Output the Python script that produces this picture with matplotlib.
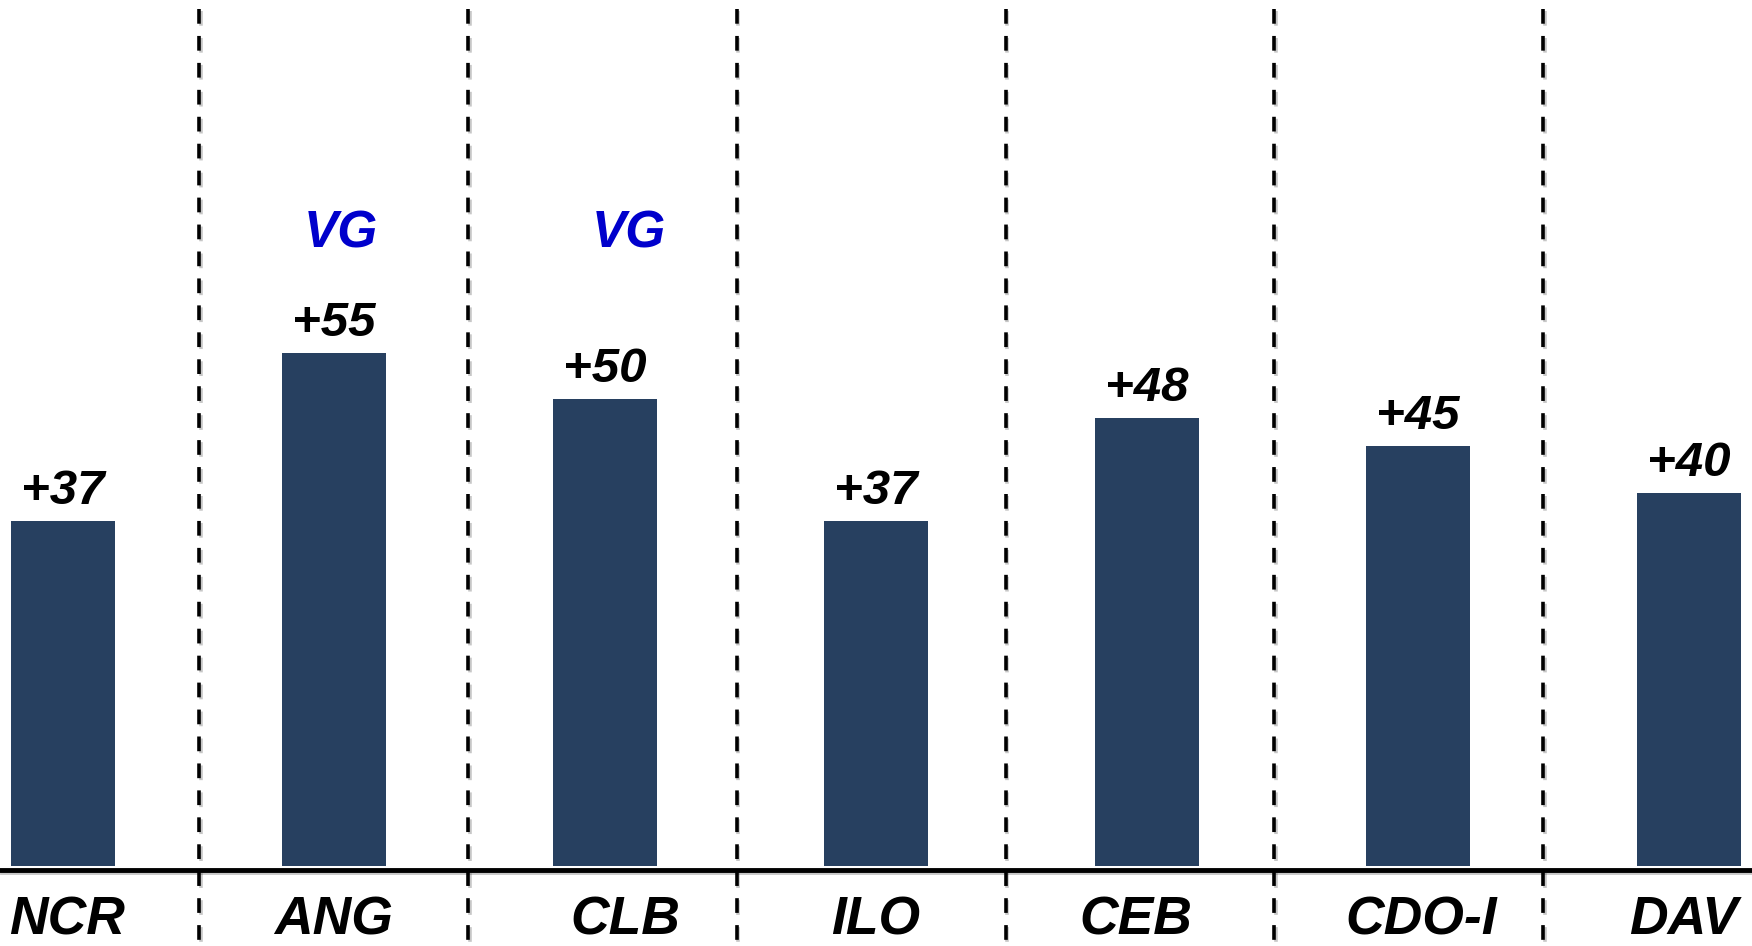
import matplotlib
matplotlib.use("Agg")
import matplotlib.pyplot as plt
import matplotlib.patheffects as pe

categories = ["NCR", "ANG", "CLB", "ILO", "CEB", "CDO-I", "DAV"]
values = [37, 55, 50, 37, 48, 45, 40]
value_labels = ["+37", "+55", "+50", "+37", "+48", "+45", "+40"]
vg_flags = [False, True, True, False, False, False, False]

plt.rcParams['font.family'] = ['Liberation Sans', 'DejaVu Sans']
plt.rcParams['lines.scale_dashes'] = False

BAR = '#274060'
BLUE = '#0000CC'

# small horizontal nudges of text (layout only, in data units)
cat_nudge = [0.015, 0.0, 0.074, 0.0, -0.04, 0.01, -0.022]
vg_nudge = [0.0, 0.027, 0.088, 0.0, 0.0, 0.0, 0.0]

fig = plt.figure(figsize=(17.52, 9.46), dpi=100)
ax = fig.add_axes([0, 0, 1, 1])
ax.set_xlim(-0.2325, 6.2325)
ax.set_ylim(-8.57, 92.8)
ax.axis('off')

x = list(range(len(categories)))
ax.bar(x, values, width=0.384, color=BAR, zorder=2)

shadow = [pe.SimpleLineShadow(offset=(1.2, -1.2), shadow_color='k', alpha=0.22), pe.Normal()]

# baseline
ax.axhline(-0.45, color='black', lw=3.5, zorder=3, path_effects=shadow)

# dashed dividers
for i in range(len(categories) - 1):
    xd = 0.502 + 0.992 * i
    ax.plot([xd, xd], [91.8, -8.57], color='black', lw=2.6,
            linestyle=(0, (10.6, 8.8)), zorder=3, path_effects=shadow,
            dash_capstyle='butt')

for i, (v, lab) in enumerate(zip(values, value_labels)):
    ax.annotate(lab, (i, v), xytext=(0, 12.3), textcoords='offset points',
                ha='center', va='baseline', fontsize=35.5, fontweight='bold',
                fontstyle='italic', color='black', zorder=4)
    if vg_flags[i]:
        ax.text(i + vg_nudge[i], 66.3, "VG", ha='center', va='baseline', fontsize=37,
                fontweight='bold', fontstyle='italic', color=BLUE, zorder=4)
    ax.text(i + cat_nudge[i], -7.3, categories[i], ha='center', va='baseline',
            fontsize=38.5, fontweight='bold', fontstyle='italic', color='black', zorder=4)

fig.savefig("out.png", dpi=100)
